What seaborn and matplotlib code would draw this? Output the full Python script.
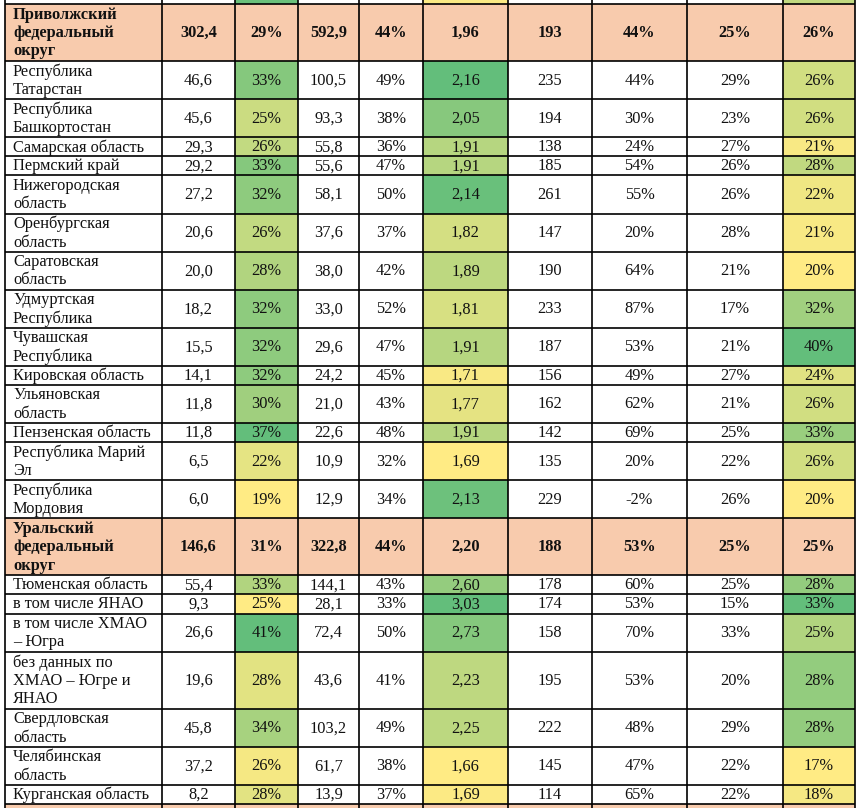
import numpy as np
import seaborn as sns
import matplotlib.pyplot as plt
from matplotlib.colors import ListedColormap

# rows of the table (district header rows first in each block)
regions = [
    "Приволжский\nфедеральный\nокруг",
    "Республика\nТатарстан",
    "Республика\nБашкортостан",
    "Самарская область",
    "Пермский край",
    "Нижегородская\nобласть",
    "Оренбургская\nобласть",
    "Саратовская\nобласть",
    "Удмуртская\nРеспублика",
    "Чувашская\nРеспублика",
    "Кировская область",
    "Ульяновская\nобласть",
    "Пензенская область",
    "Республика Марий\nЭл",
    "Республика\nМордовия",
    "Уральский\nфедеральный\nокруг",
    "Тюменская область",
    "в том числе ЯНАО",
    "в том числе ХМАО\n– Югра",
    "без данных по\nХМАО – Югре и\nЯНАО",
    "Свердловская\nобласть",
    "Челябинская\nобласть",
    "Курганская область",
]
is_total = [True] + [False] * 14 + [True] + [False] * 7
district = [0] * 15 + [1] * 8

val_a = [302.4, 46.6, 45.6, 29.3, 29.2, 27.2, 20.6, 20.0, 18.2, 15.5, 14.1, 11.8, 11.8, 6.5, 6.0,
         146.6, 55.4, 9.3, 26.6, 19.6, 45.8, 37.2, 8.2]
share_a = [29, 33, 25, 26, 33, 32, 26, 28, 32, 32, 32, 30, 37, 22, 19,
           31, 33, 25, 41, 28, 34, 26, 28]
val_b = [592.9, 100.5, 93.3, 55.8, 55.6, 58.1, 37.6, 38.0, 33.0, 29.6, 24.2, 21.0, 22.6, 10.9, 12.9,
         322.8, 144.1, 28.1, 72.4, 43.6, 103.2, 61.7, 13.9]
share_b = [44, 49, 38, 36, 47, 50, 37, 42, 52, 47, 45, 43, 48, 32, 34,
           44, 43, 33, 50, 41, 49, 38, 37]
ratio = [1.96, 2.16, 2.05, 1.91, 1.91, 2.14, 1.82, 1.89, 1.81, 1.91, 1.71, 1.77, 1.91, 1.69, 2.13,
         2.20, 2.60, 3.03, 2.73, 2.23, 2.25, 1.66, 1.69]
index_c = [193, 235, 194, 138, 185, 261, 147, 190, 233, 187, 156, 162, 142, 135, 229,
           188, 178, 174, 158, 195, 222, 145, 114]
growth = [44, 44, 30, 24, 54, 55, 20, 64, 87, 53, 49, 62, 69, 20, -2,
          53, 60, 53, 70, 53, 48, 47, 65]
share_c = [25, 29, 23, 27, 26, 26, 28, 21, 17, 21, 27, 21, 25, 22, 26,
           25, 25, 15, 33, 20, 29, 22, 22]
share_d = [26, 26, 26, 21, 28, 22, 21, 20, 32, 40, 24, 26, 33, 26, 20,
           25, 28, 33, 25, 28, 28, 17, 18]

# colour level of the cut-off row above the table (last row of the previous block)
prev_row_levels = {2: 0.95, 5: 0.03, 9: 0.4}

YELLOW, GREEN, SALMON = "#FFEB84", "#63BE7B", "#F8CBAD"


def dec(v, n):
    return f"{v:.{n}f}".replace(".", ",")


columns = [
    regions,
    [dec(v, 1) for v in val_a],
    [f"{v}%" for v in share_a],
    [dec(v, 1) for v in val_b],
    [f"{v}%" for v in share_b],
    [dec(v, 2) for v in ratio],
    [str(v) for v in index_c],
    [f"{v}%" for v in growth],
    [f"{v}%" for v in share_c],
    [f"{v}%" for v in share_d],
]
scaled = {2: share_a, 5: ratio, 9: share_d}

sns.set_theme(style="white")
plt.rcParams["font.family"] = ["Liberation Serif", "DejaVu Serif"]
cmap = sns.blend_palette([YELLOW, GREEN], as_cmap=True)

W, H = 857, 808
x_edges = np.array([5, 162, 235, 298, 359, 423, 508, 592, 687, 783, 855])
unit = 800 / 42
heights = [r.count("\n") + 1 for r in regions]
y_edges = np.concatenate([[0, 4], 4 + np.cumsum(heights) * unit, [H]])

n_rows = len(regions)
ncol = len(columns)
levels = np.full((n_rows + 2, ncol), np.nan)
salmon = np.full((n_rows + 2, ncol), np.nan)
for c, lv in prev_row_levels.items():
    levels[0, c] = lv
salmon[-1, :] = 1
for i in range(n_rows):
    if is_total[i]:
        salmon[i + 1, :] = 1
        continue
    grp = [k for k in range(n_rows) if district[k] == district[i] and not is_total[k]]
    for c, vals in scaled.items():
        lo = min(vals[k] for k in grp)
        hi = max(vals[k] for k in grp)
        levels[i + 1, c] = (vals[i] - lo) / (hi - lo)

fig = plt.figure(figsize=(W / 100, H / 100), dpi=100)
ax = fig.add_axes([0, 0, 1, 1])
ax.set_xlim(0, W)
ax.set_ylim(H, 0)
ax.axis("off")

ax.pcolormesh(x_edges, y_edges, np.ma.masked_invalid(levels), cmap=cmap, vmin=0, vmax=1,
              edgecolors="none", antialiased=False)
ax.pcolormesh(x_edges, y_edges, np.ma.masked_invalid(salmon), cmap=ListedColormap([SALMON]),
              vmin=0, vmax=1, edgecolors="none", antialiased=False)

ax.hlines(y_edges[1:-1], x_edges[0], x_edges[-1], color="black", lw=1.2)
ax.vlines(x_edges, 0, H, color="black", lw=1.2)

FS = 11.8
for i in range(n_rows):
    yc = (y_edges[i + 1] + y_edges[i + 2]) / 2 + 0.5
    weight = "bold" if is_total[i] else "normal"
    for c in range(ncol):
        txt = columns[c][i]
        if c == 0:
            ax.text(x_edges[0] + 8, yc, txt, ha="left", va="center", fontsize=FS,
                    fontweight=weight, linespacing=1.2, color="#111111")
        else:
            ax.text((x_edges[c] + x_edges[c + 1]) / 2, yc, txt, ha="center", va="center",
                    fontsize=FS, fontweight=weight, color="#111111")

fig.savefig("out.png", dpi=100)
